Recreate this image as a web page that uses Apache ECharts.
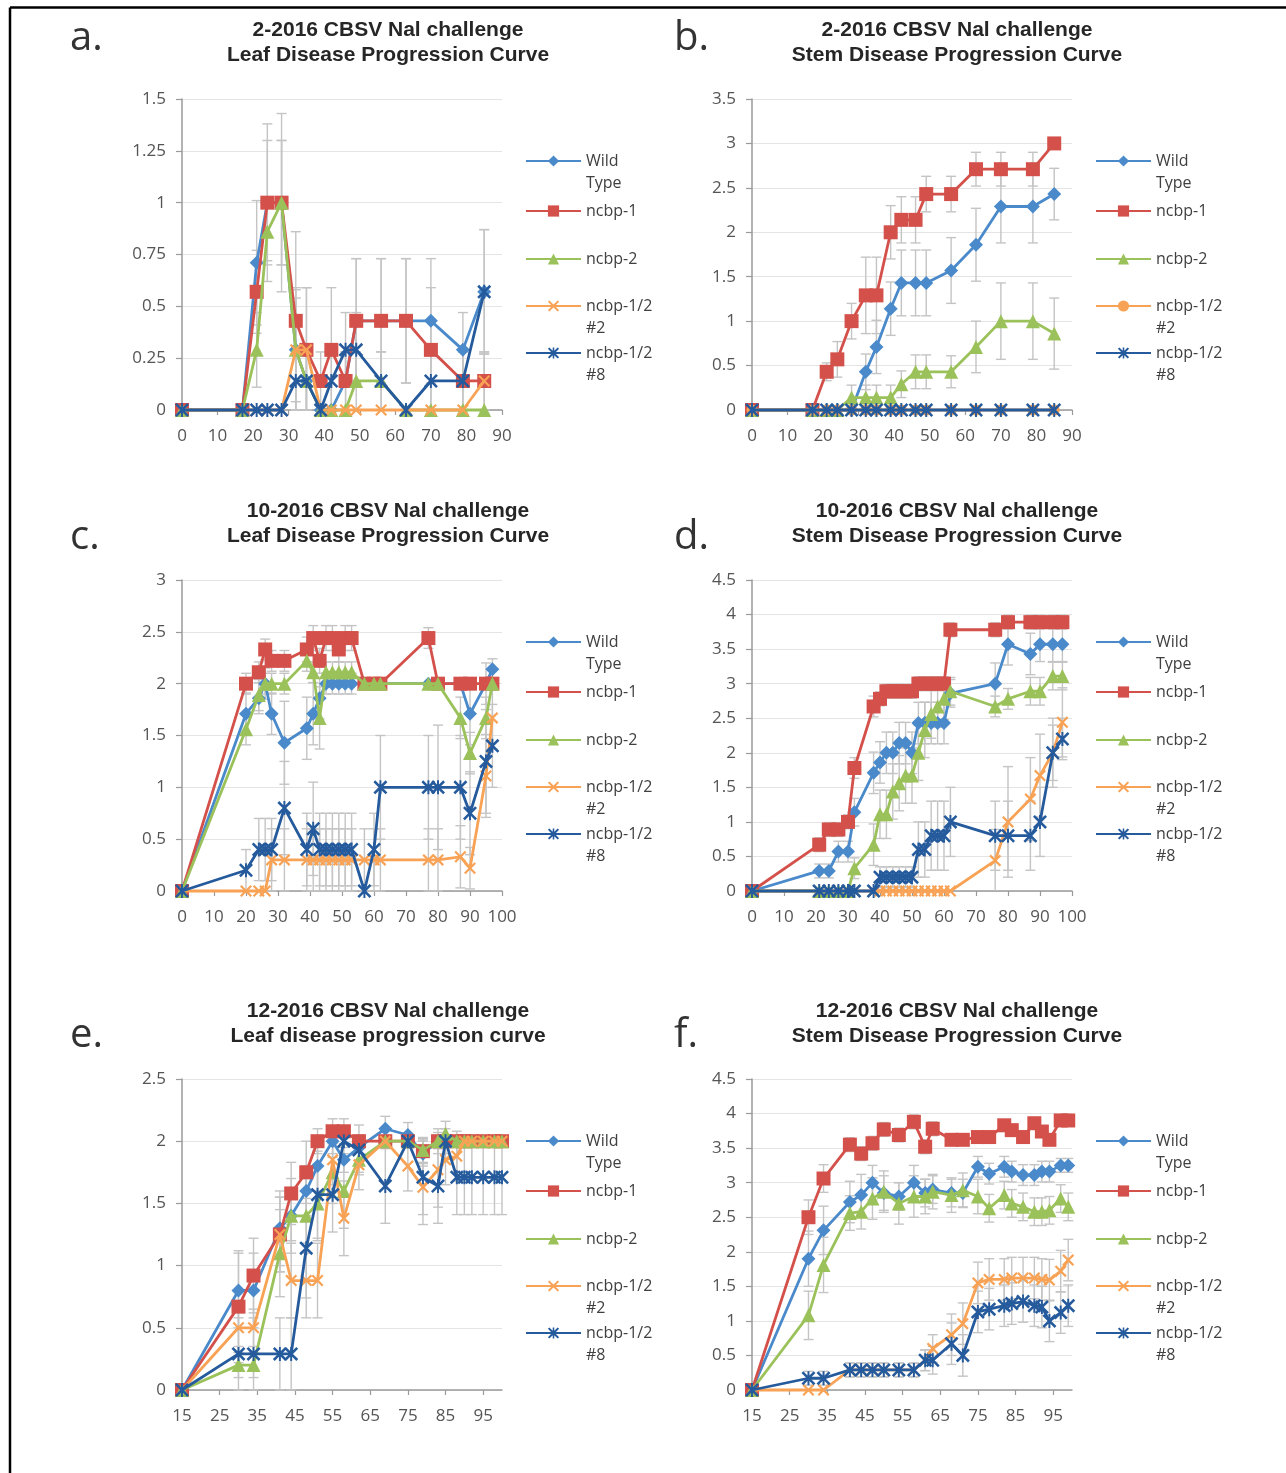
<!DOCTYPE html>
<html><head><meta charset="utf-8">
<script src="https://cdn.jsdelivr.net/npm/echarts@6/dist/echarts.min.js"></script>
<style>html,body{margin:0;padding:0;background:#fff}#chart{width:1286px;height:1473px}</style>
</head><body><div id="chart"></div>
<script>
// ---------- DATA ----------
const seriesLabels = ['Wild Type', 'ncbp-1', 'ncbp-2', 'ncbp-1/2 #2', 'ncbp-1/2 #8'];
const legendText = [' \nWild\nType', 'ncbp-1', 'ncbp-2', ' \nncbp-1/2\n#2', ' \nncbp-1/2\n#8'];

// a. 2-2016 Leaf
const aDays = [0,17,21,24,28,32,35,39,42,46,49,56,63,70,79,85];
const aWT = [0,0,0.71,1,1,0.29,0.14,0,0,0.14,0.43,0.43,0.43,0.43,0.29,0.57];
const aR  = [0,0,0.57,1,1,0.43,0.29,0.14,0.29,0.14,0.43,0.43,0.43,0.29,0.14,0.14];
const aG  = [0,0,0.29,0.86,1,0.29,0.14,0,0,0,0.14,0.14,0,0,0,0];
const aO  = [0,0,0,0,0,0.29,0.29,0,0,0,0,0,0,0,0,0.14];
const a8  = [0,0,0,0,0,0.14,0.14,0,0.14,0.29,0.29,0.14,0,0.14,0.14,0.57];
const aWTe = [0,0,0.3,0.3,0.3,0.25,0.14,0,0,0.14,0.3,0.3,0.3,0.3,0.18,0.3];
const aRe  = [0,0,0.2,0.38,0.3,0.43,0.3,0.14,0.3,0.14,0.3,0.3,0.3,0.3,0.14,0.14];
const aGe  = [0,0,0.18,0.14,0.43,0.29,0.14,0,0,0,0.14,0.14,0,0,0,0];
const aOe  = [0,0,0,0,0,0.3,0.3,0,0,0,0,0,0,0,0,0.14];
const a8e  = [0,0,0,0,0,0.14,0.14,0,0.14,0.18,0.18,0.14,0,0.14,0.14,0.3];

// b. 2-2016 Stem
const bDays = [0,17,21,24,28,32,35,39,42,46,49,56,63,70,79,85];
const bWT = [0,0,0,0,0,0.43,0.71,1.14,1.43,1.43,1.43,1.57,1.86,2.29,2.29,2.43];
const bR  = [0,0,0.43,0.57,1,1.29,1.29,2,2.14,2.14,2.43,2.43,2.71,2.71,2.71,3];
const bG  = [0,0,0,0,0.14,0.14,0.14,0.14,0.29,0.43,0.43,0.43,0.71,1,1,0.86];
const bO  = [0,0,0,0,0,0,0,0,0,0,0,0,0,0,0,0];
const b8  = [0,0,0,0,0,0,0,0,0,0,0,0,0,0,0,0];
const bWTe = [0,0,0,0,0,0.2,0.3,0.3,0.37,0.37,0.37,0.37,0.41,0.41,0.41,0.29];
const bRe  = [0,0,0.1,0.2,0.2,0.43,0.43,0.3,0.26,0.26,0.2,0.2,0.19,0.19,0.19,0];
const bGe  = [0,0,0,0,0.14,0.14,0.14,0.14,0.15,0.19,0.19,0.18,0.29,0.43,0.43,0.4];
const bOe  = [0,0,0,0,0,0,0,0,0,0,0,0,0,0,0,0];
const b8e  = [0,0,0,0,0,0,0,0,0,0,0,0,0,0,0,0];

// c. 10-2016 Leaf
const cDays = [0,20,24,26,28,32,39,41,43,45,47,49,51,53,57,60,62,77,80,87,90,95,97];
const cWT = [0,1.71,1.86,2,1.71,1.43,1.57,1.71,1.86,2,2,2,2,2,2,2,2,2,2,2,1.71,2,2.14];
const cR  = [0,2,2.11,2.33,2.22,2.22,2.33,2.44,2.22,2.44,2.44,2.33,2.44,2.44,2,2,2,2.44,2,2,2,2,2];
const cG  = [0,1.56,1.89,2,2,2,2.22,2.11,1.67,2.11,2.11,2.11,2.11,2.11,2,2,2,2,2,1.67,1.33,1.67,2];
const cO  = [0,0,0,0,0.3,0.3,0.3,0.3,0.3,0.3,0.3,0.3,0.3,0.3,0.3,0.3,0.3,0.3,0.3,0.33,0.22,1.11,1.67];
const c8  = [0,0.2,0.4,0.4,0.4,0.8,0.4,0.6,0.4,0.4,0.4,0.4,0.4,0.4,0,0.4,1,1,1,1,0.75,1.25,1.4];
const cWTe = [0,0.2,0.15,0.15,0.2,0.4,0.3,0.3,0.2,0.1,0.1,0.1,0.1,0.1,0,0,0,0,0,0,0.3,0.2,0.1];
const cRe  = [0,0.1,0.1,0.1,0.1,0.1,0.12,0.12,0.12,0.12,0.12,0.12,0.12,0.12,0,0,0,0.1,0,0,0,0,0];
const cGe  = [0,0.15,0.15,0.1,0.1,0.1,0.1,0.1,0.3,0.1,0.1,0.1,0.1,0.1,0,0,0,0,0,0.2,0.2,0.2,0];
const cOe  = [0,0,0,0,0.3,0.3,0.3,0.3,0.3,0.3,0.3,0.3,0.3,0.3,0.3,0.3,0.3,0.3,0.3,0.3,0.2,0.4,0.3];
const c8e  = [0,0.2,0.3,0.3,0.3,0.45,0.35,0.45,0.35,0.35,0.35,0.35,0.35,0.35,0,0.35,0.5,0.5,0.6,0.5,0.4,0.5,0.4];

// d. 10-2016 Stem
const dDays = [0,21,24,27,30,32,38,40,42,44,46,48,50,52,54,56,58,60,62,76,80,87,90,94,97];
const dWT = [0,0.29,0.29,0.57,0.57,1.14,1.71,1.86,2,2,2.14,2.14,2,2.43,2.43,2.43,2.43,2.43,2.86,3,3.57,3.43,3.57,3.57,3.57];
const dR  = [0,0.67,0.89,0.89,1,1.78,2.67,2.78,2.89,2.89,2.89,2.89,2.89,3,3,3,3,3,3.78,3.78,3.89,3.89,3.89,3.89,3.89];
const dG  = [0,0,0,0,0,0.33,0.67,1.11,1.11,1.44,1.56,1.67,1.67,2,2.33,2.56,2.67,2.78,2.89,2.67,2.78,2.89,2.89,3.11,3.11];
const dO  = [0,0,0,0,0,0,0,0,0,0,0,0,0,0,0,0,0,0,0,0.44,1,1.33,1.67,2,2.44];
const d8  = [0,0,0,0,0,0,0,0.2,0.2,0.2,0.2,0.2,0.2,0.6,0.6,0.8,0.8,0.8,1,0.8,0.8,0.8,1,2,2.2];
const dWTe = [0,0.1,0.1,0.15,0.15,0.2,0.3,0.3,0.3,0.3,0.3,0.3,0.3,0.3,0.3,0.3,0.3,0.3,0.2,0.3,0.3,0.3,0.25,0.25,0.25];
const dRe  = [0,0.1,0.1,0.1,0.1,0.15,0.15,0.1,0.1,0.1,0.1,0.1,0.1,0.1,0.1,0.1,0.1,0.1,0.1,0.1,0.1,0.1,0.1,0.1,0.1];
const dGe  = [0,0,0,0,0,0.15,0.3,0.35,0.35,0.4,0.4,0.4,0.4,0.4,0.4,0.35,0.3,0.3,0.2,0.15,0.15,0.2,0.2,0.2,0.2];
const dOe  = [0,0,0,0,0,0,0,0,0,0,0,0,0,0,0,0,0,0,0,0.45,0.8,0.6,0.6,0.5,0.5];
const d8e  = [0,0,0,0,0,0,0,0.15,0.15,0.15,0.15,0.15,0.15,0.4,0.4,0.5,0.5,0.5,0.5,0.5,0.5,0.5,0.5,0.4,0.3];

// e. 12-2016 Leaf
const eDays = [15,30,34,41,44,48,51,55,58,62,69,75,79,83,85,88,90,92,95,98,100];
const eWT = [0,0.8,0.8,1.3,1.4,1.6,1.8,2,1.85,1.95,2.1,2.05,1.9,2,2,2,2,2,2,2,2];
const eR  = [0,0.67,0.92,1.25,1.58,1.75,2,2.08,2.08,2,2,2,1.92,2,2,2,2,2,2,2,2];
const eG  = [0,0.2,0.2,1.1,1.4,1.4,1.5,1.75,1.6,1.85,2,2,1.93,2,2.06,2,2,2,2,2,2];
const eO  = [0,0.5,0.5,1.25,0.88,0.88,0.88,1.85,1.38,1.81,2,1.8,1.63,1.77,1.85,1.88,2,2,2,2,2];
const e8  = [0,0.29,0.29,0.29,0.29,1.14,1.57,1.57,2,1.93,1.64,2,1.71,1.64,2,1.71,1.71,1.71,1.71,1.71,1.71];
const eWTe = [0,0.3,0.3,0.3,0.2,0.2,0.2,0.1,0.1,0.1,0.1,0.1,0.1,0.1,0.1,0,0,0,0,0,0];
const eRe  = [0,0.45,0.3,0.3,0.25,0.25,0.1,0.1,0.1,0,0,0,0.1,0,0,0,0,0,0,0,0];
const eGe  = [0,0.1,0.1,0.35,0.3,0.3,0.3,0.25,0.3,0.1,0,0,0.1,0,0.1,0,0,0,0,0,0];
const eOe  = [0,0.15,0.15,0.3,0.3,0.3,0.3,0.2,0.3,0.2,0,0.2,0.3,0.3,0.2,0.2,0,0,0,0,0];
const e8e  = [0,0.29,0.29,0.29,0.29,0.4,0.35,0.3,0,0.2,0.3,0,0.3,0.3,0,0.3,0.3,0.3,0.3,0.3,0.3];

// f. 12-2016 Stem
const fDays = [15,30,34,41,44,47,50,54,58,61,63,68,71,75,78,82,84,87,90,92,94,97,99];
const fWT = [0,1.9,2.31,2.72,2.82,3,2.85,2.8,3,2.85,2.9,2.85,2.85,3.23,3.13,3.23,3.16,3.11,3.11,3.16,3.16,3.25,3.25];
const fR  = [0,2.5,3.06,3.55,3.42,3.57,3.77,3.69,3.88,3.52,3.78,3.62,3.62,3.66,3.66,3.83,3.76,3.66,3.86,3.74,3.62,3.9,3.9];
const fG  = [0,1.08,1.81,2.56,2.58,2.77,2.87,2.7,2.8,2.8,2.87,2.82,2.89,2.8,2.63,2.82,2.7,2.65,2.58,2.58,2.6,2.77,2.65];
const fO  = [0,0,0,0.29,0.29,0.29,0.29,0.29,0.29,0.43,0.6,0.8,0.96,1.55,1.6,1.6,1.62,1.62,1.62,1.6,1.59,1.72,1.88];
const f8  = [0,0.17,0.17,0.29,0.29,0.29,0.29,0.29,0.29,0.43,0.43,0.67,0.5,1.13,1.17,1.22,1.25,1.28,1.22,1.2,1.0,1.12,1.22];
const fWTe = [0,0.4,0.35,0.3,0.3,0.25,0.25,0.2,0.25,0.2,0.2,0.2,0.2,0.15,0.15,0.15,0.15,0.15,0.15,0.15,0.15,0.1,0.1];
const fRe  = [0,0.25,0.2,0.1,0.1,0.1,0.1,0.1,0.1,0.1,0.1,0.05,0.05,0.05,0.05,0.05,0.05,0.05,0.05,0.05,0.05,0.05,0];
const fGe  = [0,0.35,0.4,0.25,0.25,0.3,0.3,0.3,0.3,0.25,0.25,0.25,0.25,0.25,0.2,0.2,0.2,0.2,0.2,0.2,0.2,0.2,0.2];
const fOe  = [0,0,0,0.1,0.1,0.1,0.1,0.1,0.1,0.15,0.2,0.3,0.3,0.3,0.3,0.3,0.3,0.3,0.3,0.3,0.3,0.3,0.3];
const f8e  = [0,0.1,0.1,0.1,0.1,0.1,0.1,0.1,0.1,0.15,0.2,0.3,0.3,0.3,0.3,0.3,0.3,0.3,0.3,0.3,0.3,0.3,0.3];

const xTicksLate = [15,25,35,45,55,65,75,85,95];

// ---------- STYLE / LAYOUT ----------
const COLORS = ['#4a8acb', '#d4504a', '#9bc25a', '#f8a255', '#255b9c'];
const XPATH = 'path://M1.3,0L5,3.7L8.7,0L10,1.3L6.3,5L10,8.7L8.7,10L5,6.3L1.3,10L0,8.7L3.7,5L0,1.3Z';
const STARPATH = 'path://M1.3,0L5,3.7L8.7,0L10,1.3L6.3,5L10,8.7L8.7,10L5,6.3L1.3,10L0,8.7L3.7,5L0,1.3ZM4.3,0L5.7,0L5.7,10L4.3,10Z';
const SYMBOLS = ['diamond', 'rect', 'triangle', XPATH, STARPATH];
const SIZES = [14, 14, 14, 12, 14];
const colLeft = [182, 752], colTitle = [388, 957], colLetter = [70, 674], colLegend = [525, 1095];
const rowTop = [99, 580, 1079], rowTitle = [18, 499, 999], rowLetter = [39, 538, 1036];
const legendOffsets = [62, 112, 160, 207, 254];

const panels = [
  {key:'a', letter:'a.', title:'2-2016 CBSV Nal challenge\nLeaf Disease Progression Curve', col:0, row:0, xMin:0, xMax:90, yMax:1.5, yStep:0.25, days:aDays, vals:[aWT,aR,aG,aO,a8], errs:[aWTe,aRe,aGe,aOe,a8e]},
  {key:'b', letter:'b.', title:'2-2016 CBSV Nal challenge\nStem Disease Progression Curve', col:1, row:0, xMin:0, xMax:90, yMax:3.5, yStep:0.5, days:bDays, vals:[bWT,bR,bG,bO,b8], errs:[bWTe,bRe,bGe,bOe,b8e], circle2:true},
  {key:'c', letter:'c.', title:'10-2016 CBSV Nal challenge\nLeaf Disease Progression Curve', col:0, row:1, xMin:0, xMax:100, yMax:3, yStep:0.5, days:cDays, vals:[cWT,cR,cG,cO,c8], errs:[cWTe,cRe,cGe,cOe,c8e]},
  {key:'d', letter:'d.', title:'10-2016 CBSV Nal challenge\nStem Disease Progression Curve', col:1, row:1, xMin:0, xMax:100, yMax:4.5, yStep:0.5, days:dDays, vals:[dWT,dR,dG,dO,d8], errs:[dWTe,dRe,dGe,dOe,d8e]},
  {key:'e', letter:'e.', title:'12-2016 CBSV Nal challenge\nLeaf disease progression curve', col:0, row:2, xMin:15, xMax:100, yMax:2.5, yStep:0.5, days:eDays, vals:[eWT,eR,eG,eO,e8], errs:[eWTe,eRe,eGe,eOe,e8e], custom:xTicksLate},
  {key:'f', letter:'f.', title:'12-2016 CBSV Nal challenge\nStem Disease Progression Curve', col:1, row:2, xMin:15, xMax:100, yMax:4.5, yStep:0.5, days:fDays, vals:[fWT,fR,fG,fO,f8], errs:[fWTe,fRe,fGe,fOe,f8e], custom:xTicksLate}
];

const FONT = '"Open Sans", "Liberation Sans", sans-serif';
const AXIS_COLOR = '#9a9a9a';
const grids = [], xAxes = [], yAxes = [], series = [], legends = [], titles = [];
const graphics = [
  {type:'line', shape:{x1:10, y1:7.5, x2:1286, y2:7.5}, style:{stroke:'#000', lineWidth:2.5}, z:100},
  {type:'line', shape:{x1:10, y1:7.5, x2:10, y2:1473}, style:{stroke:'#000', lineWidth:2.5}, z:100}
];

function errRender(params, api) {
  const x = api.value(0), y = api.value(1), e = api.value(2);
  if (!(e > 0)) return;
  const top = api.coord([x, y + e]);
  const lowV = y - e;
  const bot = api.coord([x, Math.max(0, lowV)]);
  const st = {stroke:'#c4c4c4', lineWidth:1.4};
  const cap = 5;
  const ch = [
    {type:'line', shape:{x1:top[0], y1:top[1], x2:bot[0], y2:bot[1]}, style:st},
    {type:'line', shape:{x1:top[0]-cap, y1:top[1], x2:top[0]+cap, y2:top[1]}, style:st}
  ];
  if (lowV >= 0) ch.push({type:'line', shape:{x1:bot[0]-cap, y1:bot[1], x2:bot[0]+cap, y2:bot[1]}, style:st});
  return {type:'group', children:ch};
}

panels.forEach((p, pi) => {
  const left = colLeft[p.col], top = rowTop[p.row];
  grids.push({left:left, top:top, width:320, height:311, containLabel:false, outerBoundsMode:'none'});
  const xa = {
    type:'value', gridIndex:pi, min:p.xMin, max:p.xMax,
    axisLine:{show:true, lineStyle:{color:AXIS_COLOR, width:1.5}},
    axisTick:{show:true, inside:false, length:5, lineStyle:{color:AXIS_COLOR, width:1.2}},
    axisLabel:{color:'#555', fontSize:17, fontFamily:FONT, margin:18},
    splitLine:{show:false}
  };
  if (p.custom) {
    xa.axisLabel.customValues = p.custom;
    xa.axisTick.customValues = p.custom;
  } else {
    xa.interval = 10;
  }
  xAxes.push(xa);
  yAxes.push({
    type:'value', gridIndex:pi, min:0, max:p.yMax, interval:p.yStep,
    axisLine:{show:true, lineStyle:{color:AXIS_COLOR, width:1.5}},
    axisTick:{show:true, inside:false, length:6, lineStyle:{color:AXIS_COLOR, width:1.2}},
    axisLabel:{color:'#555', fontSize:17, fontFamily:FONT, margin:16},
    splitLine:{show:true, lineStyle:{color:'#e4e4e4', width:1}}
  });
  titles.push({
    text:p.title, left:colTitle[p.col], top:rowTitle[p.row], textAlign:'center', padding:0,
    textStyle:{fontFamily:'"Liberation Sans", Arial, sans-serif', fontWeight:'bold', fontSize:21, lineHeight:25, color:'#262626'}
  });
  graphics.push({type:'text', x:colLetter[p.col], y:rowLetter[p.row], style:{text:p.letter, font:'40px ' + FONT, fill:'#333', verticalAlign:'middle', align:'left'}});

  for (let i = 0; i < 5; i++) {
    const name = p.key + '|' + i;
    const sym = (p.circle2 && i === 3) ? 'circle' : SYMBOLS[i];
    const size = (p.circle2 && i === 3) ? 11 : SIZES[i];
    series.push({
      type:'custom', xAxisIndex:pi, yAxisIndex:pi, silent:true, z:1,
      data:p.days.map((d, k) => [d, p.vals[i][k], p.errs[i][k]]),
      encode:{x:0, y:1}, renderItem:errRender, animation:false
    });
    series.push({
      name:name, type:'line', xAxisIndex:pi, yAxisIndex:pi, z:3 + i,
      data:p.days.map((d, k) => [d, p.vals[i][k]]),
      symbol:sym, symbolSize:size, showAllSymbol:true, clip:false,
      lineStyle:{width:2.8, color:COLORS[i]}, itemStyle:{color:COLORS[i]},
      emphasis:{disabled:true}, animation:false
    });
    const lines = legendText[i].split('\n').length;
    const half = lines * 22 / 2;
    legends.push({
      data:[name], left:colLegend[p.col], top:top + legendOffsets[i] - half,
      orient:'vertical', itemWidth:55, itemHeight:14, itemGap:0, padding:0, selectedMode:false,
      formatter:() => legendText[i],
      textStyle:{fontFamily:FONT, fontSize:16, color:'#404040', lineHeight:22}
    });
  }
});

const chart = echarts.init(document.getElementById('chart'), null, {renderer:'canvas'});
chart.setOption({
  backgroundColor:'#fff', animation:false,
  title:titles, grid:grids, xAxis:xAxes, yAxis:yAxes, legend:legends, series:series, graphic:graphics
});
</script></body></html>
